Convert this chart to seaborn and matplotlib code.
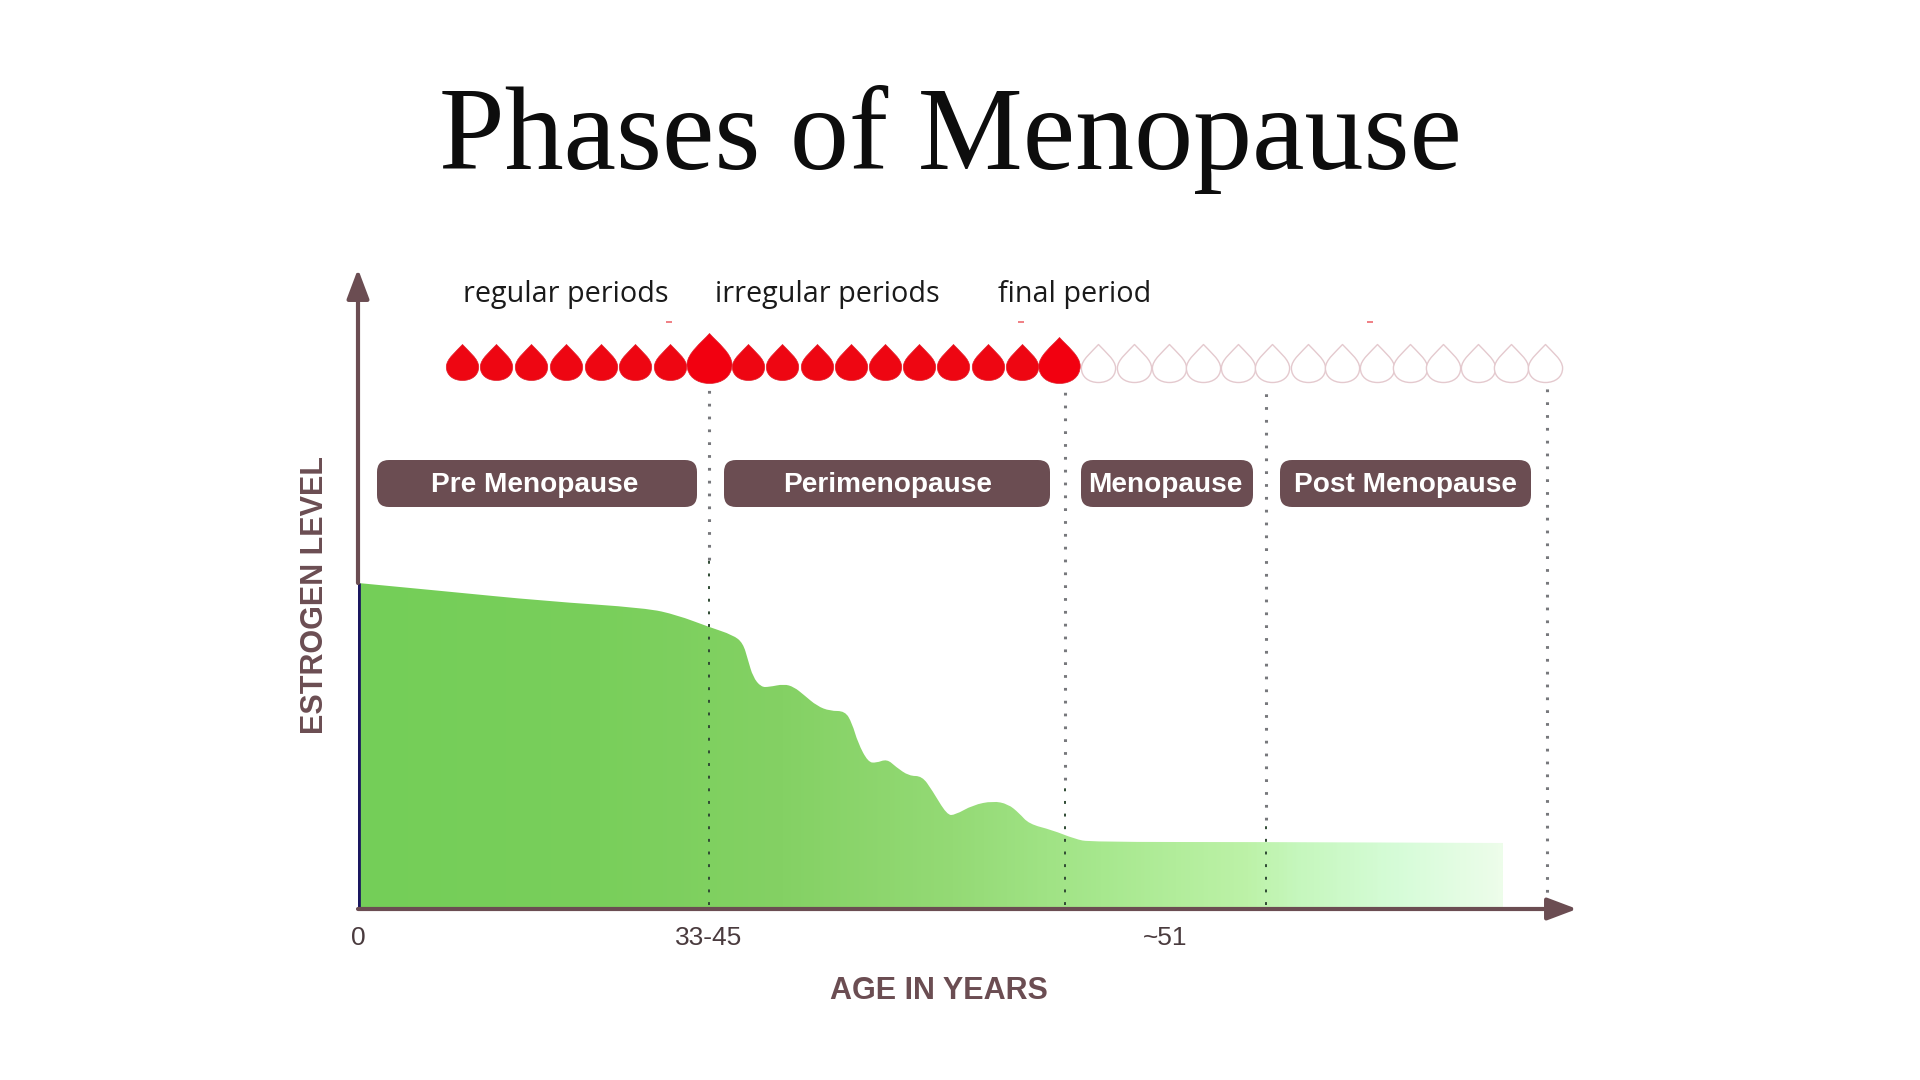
import numpy as np
import seaborn as sns
import matplotlib
matplotlib.use("Agg")
import matplotlib.pyplot as plt
from matplotlib.path import Path
from matplotlib.patches import FancyBboxPatch
from matplotlib.colors import LinearSegmentedColormap

# ---------- data ----------
TITLE = "Phases of Menopause"
age_pos = [0, 84, 186, 288, 319, 351, 375, 385, 390, 395, 403, 411, 426, 436, 446, 459, 472, 487,
           494, 500, 510, 518, 529, 538, 551, 564, 574, 589, 597, 615, 635, 650, 661, 671, 694,
           717, 732, 900, 1145]
estrogen = [326, 318, 308, 301, 294, 282, 274, 266, 249, 232, 222, 222, 225, 222, 214, 203, 198, 198,
            186, 166, 147, 146, 150, 142, 133, 133, 119, 94, 94, 104, 108, 105, 96, 85, 79,
            70, 67, 67, 66]
tick_pos = [0, 351, 807]
tick_labels = ["0", "33-45", "~51"]
phase_bounds = [351, 707, 908, 1189]
phase_split = [349, 129, 89, 4]
phase_names = ["Pre Menopause", "Perimenopause", "Menopause", "Post Menopause"]
phase_start = [19, 366, 723, 922]
phase_width = [320, 326, 172, 251]
phase_label_x = [177, 530, 807, 1047]
note_names = ["regular periods", "irregular periods", "final period"]
note_x = [207, 468, 716]
tick_marks_x = [311, 663, 1012]
period_x = [104, 138, 173, 208, 243, 277, 312, 390, 424, 459, 493, 527, 561, 595, 630, 664]
big_period_x = [351, 701]
big_period_y = [551, 549]
big_period_h = [50, 46]
absent_x = [740, 776, 811, 845, 880, 914, 950, 984, 1019, 1052, 1085, 1120, 1153, 1187]

# ---------- style ----------
sns.set_theme(style="white")
plt.rcParams["font.family"] = ["Liberation Sans", "DejaVu Sans"]
BROWN = "#6b4d52"

fig = plt.figure(figsize=(19.2, 10.8), dpi=100, facecolor="white")
ax = fig.add_axes([358 / 1920, (1080 - 909) / 1080, 1216 / 1920, 637 / 1080])
ax.set_facecolor("none")

# gradient area under a smoothed outline of the curve
pts = np.column_stack([age_pos, estrogen]).astype(float)
verts, codes = [(pts[0, 0], 0.0), tuple(pts[0])], [Path.MOVETO, Path.LINETO]
for p, q in zip(pts[1:-1], pts[2:]):
    verts += [tuple(p), tuple((p + q) / 2)]
    codes += [Path.CURVE3, Path.CURVE3]
verts += [tuple(pts[-1]), (pts[-1, 0], 0.0), (0.0, 0.0)]
codes += [Path.LINETO, Path.LINETO, Path.CLOSEPOLY]
outline = Path(verts, codes)

cmap = LinearSegmentedColormap.from_list("fade", [
    (0.00, "#74ce58"), (0.21, "#79cf5b"), (0.37, "#84d164"), (0.52, "#94da75"),
    (0.65, "#a7e88e"), (0.78, "#bdf2a8"), (0.82, "#c5f7bc"), (0.91, "#d6fcd8"), (1.00, "#edfdea")])
img = ax.imshow(np.linspace(0, 1, 600)[None, :], extent=(0, 1145, 0, 330), aspect="auto",
                cmap=cmap, vmin=0, vmax=1, zorder=1)
img.set_clip_path(outline, transform=ax.transData)

# dotted phase boundaries
for x, split in zip(phase_bounds, phase_split):
    ax.plot([x, x], [split, 521], color="#77787c", lw=2.2, ls=(0, (0.9, 3.3)), zorder=2, clip_on=False)
    ax.plot([x, x], [4, split], color="#2f4a33", lw=1.4, ls=(0, (1.5, 5.0)), zorder=2)

# axes arrows
ax.vlines(0, 0, 326, color="#1a1660", lw=3.4, zorder=3)
for xy, xytext in (((1219, 0), (0, 0)), ((0, 640), (0, 326))):
    ax.annotate("", xy=xy, xytext=xytext, annotation_clip=False, zorder=4,
                arrowprops=dict(arrowstyle="-|>,head_length=18,head_width=6.8", mutation_scale=1,
                                lw=3.0, color=BROWN, shrinkA=0, shrinkB=0))

# drop marker
drop = Path(
    [(0, 0.5), (-0.16, 0.32), (-0.45, 0.10), (-0.45, -0.12), (-0.45, -0.36), (-0.25, -0.5), (0, -0.5),
     (0.25, -0.5), (0.45, -0.36), (0.45, -0.12), (0.45, 0.10), (0.16, 0.32), (0, 0.5), (0, 0.5)],
    [Path.MOVETO, Path.CURVE4, Path.CURVE4, Path.CURVE4, Path.CURVE4, Path.CURVE4, Path.CURVE4,
     Path.CURVE4, Path.CURVE4, Path.CURVE4, Path.CURVE4, Path.CURVE4, Path.CURVE4, Path.CLOSEPOLY])
sz = lambda h_px: (h_px * 0.72) ** 2
sns.scatterplot(x=period_x, y=[547] * len(period_x), ax=ax, marker=drop, s=sz(36), color="#ee0612",
                edgecolor="#e0202c", linewidth=0.5, zorder=5, clip_on=False, legend=False)
for x, y, h in zip(big_period_x, big_period_y, big_period_h):
    sns.scatterplot(x=[x], y=[y], ax=ax, marker=drop, s=sz(h), color="#f20010",
                    edgecolor="#e0202c", linewidth=0.5, zorder=6, clip_on=False, legend=False)
sns.scatterplot(x=absent_x, y=[546] * len(absent_x), ax=ax, marker=drop, s=sz(38), color="white",
                edgecolor="#e4c9ce", linewidth=1.0, zorder=5, clip_on=False, legend=False)
ax.plot(tick_marks_x, [587] * 3, ls="", marker="_", ms=4, mew=1.2, color="#ee6a70", clip_on=False)

# phase pills
for x0, w, name, lx in zip(phase_start, phase_width, phase_names, phase_label_x):
    ax.add_patch(FancyBboxPatch((x0, 402), w, 47, boxstyle="round,pad=0,rounding_size=12",
                                fc=BROWN, ec="none", zorder=7, clip_on=False))
    ax.text(lx, 424, name, color="white", fontsize=20.2, fontweight="bold", ha="center", va="center",
            family="Liberation Sans", zorder=8)

for x, name in zip(note_x, note_names):
    ax.text(x + 1, 614.5, name, color="#1a1a1a", fontsize=20.7, ha="center", va="center",
            family="Open Sans", clip_on=False)

# scales
ax.set_xlim(0, 1216)
ax.set_ylim(0, 637)
ax.set_xticks(tick_pos, tick_labels, fontsize=19, color="#4a3b3e", fontweight="medium")
ax.set_yticks([])
ax.tick_params(axis="x", length=0, pad=12)
ax.set_xlabel("AGE IN YEARS", fontsize=22, fontweight="bold", color=BROWN, va="center")
ax.set_ylabel("ESTROGEN LEVEL", fontsize=22, fontweight="bold", color=BROWN, va="center")
ax.xaxis.set_label_coords(581, -82, transform=ax.transData)
ax.yaxis.set_label_coords(-43, 314, transform=ax.transData)
sns.despine(ax=ax, left=True, bottom=True)

fig.text(950 / 1920, 1 - 140 / 1080, TITLE, fontsize=85, ha="center", va="center",
         family="Liberation Serif", color="#0d0d0d")

fig.savefig("out.png", dpi=100, facecolor="white")
